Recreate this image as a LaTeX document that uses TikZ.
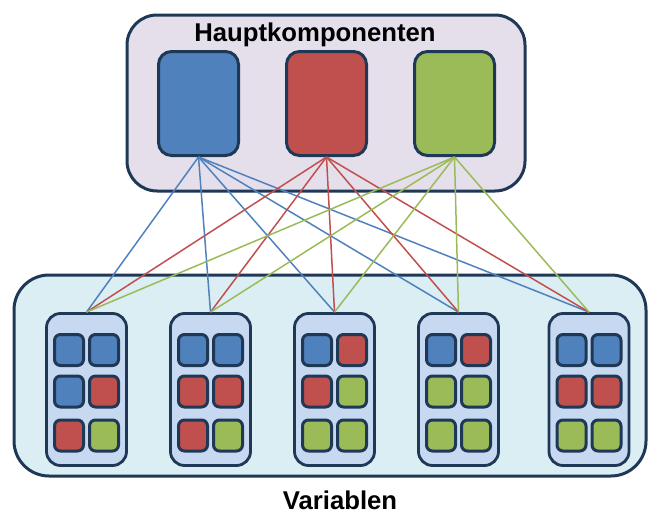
\documentclass[tikz,border=0pt]{standalone}
\usepackage{fontspec}
\setmainfont{Liberation Sans}
\definecolor{bord}{HTML}{1F3856}
\definecolor{cblue}{HTML}{4F81BD}
\definecolor{cred}{HTML}{C0504D}
\definecolor{cgreen}{HTML}{9BBB59}
\definecolor{topfill}{HTML}{E5DFEC}
\definecolor{botfill}{HTML}{DBEEF4}
\definecolor{varfill}{HTML}{C6D9F1}
\tikzset{
  bigbox/.style={draw=bord, line width=3pt, rounded corners=30pt, inner sep=0pt},
  pcbox/.style={draw=bord, line width=3pt, rounded corners=13pt, minimum width=80pt, minimum height=104pt, inner sep=0pt},
  varbox/.style={draw=bord, fill=varfill, line width=2.8pt, rounded corners=14pt, minimum width=80pt, minimum height=152pt, inner sep=0pt},
  sq/.style={draw=bord, line width=3pt, rounded corners=6pt, minimum width=29pt, minimum height=31pt, inner sep=0pt},
  conn/.style={line width=1.5pt},
  title/.style={font=\fontsize{25.7}{30}\selectfont\bfseries, inner sep=0pt}
}
\begin{document}
\begin{tikzpicture}[x=1pt,y=-1pt]
\useasboundingbox (0,0) rectangle (649,514);
% big boxes
\node[bigbox, fill=topfill, minimum width=398pt, minimum height=176pt] (top) at (326,103) {};
\node[bigbox, fill=botfill, minimum width=632pt, minimum height=201pt, rounded corners=35pt] (bot) at (330,375.5) {};
\node[title] (ttop) at (315,35) {Hauptkomponenten};
\node[title] (tbot) at (340,500) {Variablen};
% principal components
\node[pcbox, fill=cblue] (pB) at (198.5,103.5) {};
\node[pcbox, fill=cred] (pR) at (326.5,103.5) {};
\node[pcbox, fill=cgreen] (pG) at (454.5,103.5) {};
% variable boxes
\foreach \i/\x in {1/86.5,2/210.5,3/334.5,4/458.5,5/589}{
  \node[varbox] (v\i) at (\x,389.5) {};
}
% connectors
\foreach \p/\c in {B/cblue,R/cred,G/cgreen}{
  \foreach \i in {1,...,5}{
    \draw[conn, draw=\c] (p\p.south) -- (v\i.north);
  }
}
% small squares
\foreach \i/\x/\a/\b/\c/\d/\e/\f in {
  1/86.5/cblue/cblue/cblue/cred/cred/cgreen,
  2/210.5/cblue/cblue/cred/cred/cred/cgreen,
  3/334.5/cblue/cred/cred/cgreen/cgreen/cgreen,
  4/458.5/cblue/cred/cgreen/cgreen/cgreen/cgreen,
  5/589/cblue/cblue/cred/cred/cgreen/cgreen}{
  \node[sq, fill=\a] (s\i a) at (\x-17.5,350) {};
  \node[sq, fill=\b] (s\i b) at (\x+17.5,350) {};
  \node[sq, fill=\c] (s\i c) at (\x-17.5,391.5) {};
  \node[sq, fill=\d] (s\i d) at (\x+17.5,391.5) {};
  \node[sq, fill=\e] (s\i e) at (\x-17.5,435.5) {};
  \node[sq, fill=\f] (s\i f) at (\x+17.5,435.5) {};
}
\end{tikzpicture}
\end{document}
